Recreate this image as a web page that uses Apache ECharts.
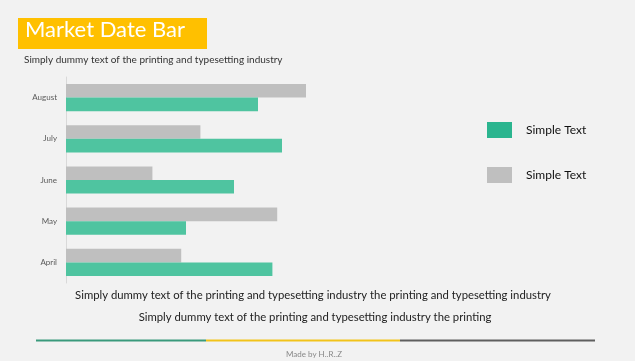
<!DOCTYPE html>
<html><head><meta charset="utf-8">
<script src="https://cdn.jsdelivr.net/npm/echarts@6/dist/echarts.min.js"></script>
<style>html,body{margin:0;padding:0;background:#f2f2f2;}#c{width:635px;height:361px;}</style>
</head><body><div id="c"></div>
<script>
var months = ['April', 'May', 'June', 'July', 'August'];
var greenValues = [86, 50, 70, 90, 80];
var grayValues = [48, 88, 36, 56, 100];
var seriesNames = ['Simple Text', 'Simple Text '];
var titleText = 'Market Date Bar';
var subtitleText = 'Simply dummy text of the printing and typesetting industry';
var footLine1 = 'Simply dummy text of the printing and typesetting industry the printing and typesetting industry';
var footLine2 = 'Simply dummy text of the printing and typesetting industry the printing';
var credit = 'Made by H..R..Z';

var FONT = 'Lato';
var chart = echarts.init(document.getElementById('c'));
chart.setOption({
  backgroundColor: '#f2f2f2',
  animation: false,
  grid: {left: 66, top: 77, width: 240, height: 206, containLabel: false},
  xAxis: {type: 'value', min: 0, max: 100, show: false},
  yAxis: {type: 'category', data: months,
    axisLine: {show: true, lineStyle: {color: '#d9d9d9', width: 1}},
    axisTick: {show: false},
    axisLabel: {color: '#595959', fontSize: 8, fontFamily: FONT, margin: 9}},
  legend: {
    orient: 'vertical', left: 487, top: 122, padding: 0, itemWidth: 25, itemHeight: 16, itemGap: 29,
    textStyle: {color: '#111', fontSize: 12, fontFamily: FONT, padding: [0,0,0,9]},
    data: [{name: seriesNames[0], icon: 'rect', itemStyle: {color: '#2bb58f'}},
           {name: seriesNames[1], icon: 'rect', itemStyle: {color: '#bfbfbf'}}]
  },
  series: [
    {name: seriesNames[1], type: 'bar', data: grayValues, itemStyle: {color: '#bfbfbf'},
     barGap: '0%', barCategoryGap: '34%'},
    {name: seriesNames[0], type: 'bar', data: greenValues, itemStyle: {color: '#4fc4a0'},
     barGap: '0%', barCategoryGap: '34%'}
  ],
  graphic: [
    {type: 'rect', shape: {x: 18, y: 18, width: 189, height: 31}, style: {fill: '#ffc000'}},
    {type: 'text', left: 25, top: 19, style: {text: titleText, fill: '#fff', font: '22px ' + FONT}},
    {type: 'text', left: 24, top: 55, style: {text: subtitleText, fill: '#333', font: '10px ' + FONT}},
    {type: 'text', x: 313, y: 295, style: {text: footLine1, fill: '#222', font: '11.3px ' + FONT, textAlign: 'center', textVerticalAlign: 'middle'}},
    {type: 'text', x: 315, y: 317, style: {text: footLine2, fill: '#222', font: '11.3px ' + FONT, textAlign: 'center', textVerticalAlign: 'middle'}},
    {type: 'line', shape: {x1: 36, y1: 340.5, x2: 206, y2: 340.5}, style: {stroke: '#3a9a7c', lineWidth: 2}},
    {type: 'line', shape: {x1: 206, y1: 340.5, x2: 400, y2: 340.5}, style: {stroke: '#f2c31a', lineWidth: 2}},
    {type: 'line', shape: {x1: 400, y1: 340.5, x2: 595, y2: 340.5}, style: {stroke: '#5f5f5f', lineWidth: 2}},
    {type: 'text', x: 314, y: 354, style: {text: credit, fill: '#888', font: '8px ' + FONT, textAlign: 'center', textVerticalAlign: 'middle'}}
  ]
});
</script></body></html>
